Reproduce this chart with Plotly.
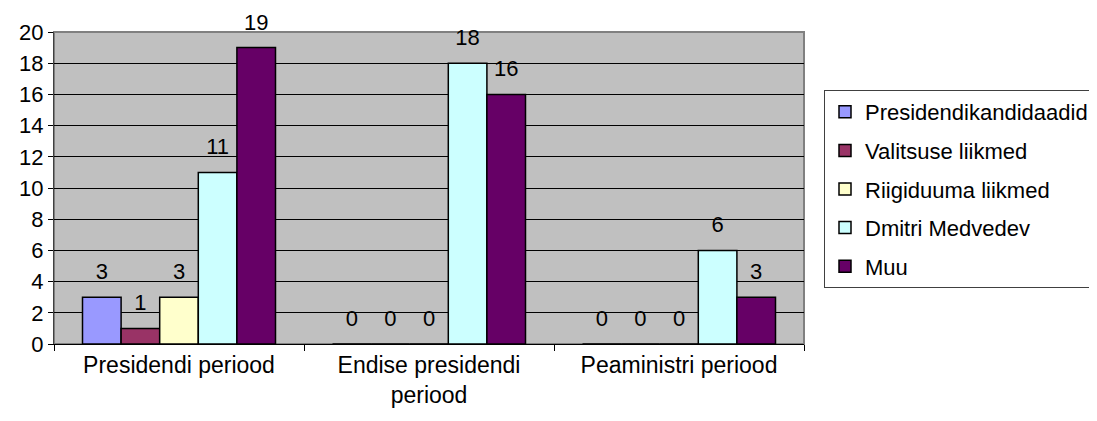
import plotly.graph_objects as go

categories = ["Presidendi periood", "Endise presidendi<br>periood", "Peaministri periood"]
series_names = ["Presidendikandidaadid", "Valitsuse liikmed", "Riigiduuma liikmed", "Dmitri Medvedev", "Muu"]
presidendikandidaadid = [3, 0, 0]
valitsuse_liikmed = [1, 0, 0]
riigiduuma_liikmed = [3, 0, 0]
dmitri_medvedev = [11, 18, 6]
muu = [19, 16, 3]
y_ticks = list(range(0, 21, 2))

values = [presidendikandidaadid, valitsuse_liikmed, riigiduuma_liikmed, dmitri_medvedev, muu]
colors = ["#9999FF", "#993366", "#FFFFCC", "#CCFFFF", "#660066"]

FONT = "Liberation Sans, Arial, sans-serif"

fig = go.Figure()
for name, vals, col in zip(series_names, values, colors):
    fig.add_trace(go.Bar(
        x=categories, y=vals, name=name, legendgroup=name,
        marker=dict(color=col, line=dict(color="black", width=1.5)),
        texttemplate="<span style='font-size:22px'>%{y}</span><br>\u00a0",
        textposition="outside",
        textfont=dict(family=FONT, size=10, color="black"),
        cliponaxis=False,
    ))

fig.update_layout(
    width=1089, height=413,
    margin=dict(l=46, r=293, t=24, b=77),
    paper_bgcolor="white", plot_bgcolor="#C0C0C0",
    barmode="group", bargap=0.228, bargroupgap=0,
    font=dict(family=FONT, size=22, color="black"),
    showlegend=True,
    legend=dict(
        xref="container", yref="container",
        x=816 / 1089, xanchor="left", y=(413 - 82) / 413, yanchor="top",
        bgcolor="white", bordercolor="#404040", borderwidth=1,
        font=dict(family=FONT, size=22, color="black"),
        traceorder="grouped", tracegroupgap=7, itemwidth=30,
    ),
    xaxis=dict(
        showgrid=False, showline=True, linecolor="black", linewidth=1,
        ticks="outside", tickson="boundaries", ticklen=6, tickcolor="black",
        mirror=False, tickfont=dict(size=23),
    ),
    yaxis=dict(
        range=[0, 20], tickvals=y_ticks, showgrid=True, gridcolor="black", gridwidth=1,
        showline=True, linecolor="#404040", linewidth=1, ticks="outside", ticklen=5,
        tickcolor="black", tickfont=dict(size=22), zeroline=False,
    ),
)
fig.add_shape(type="rect", xref="paper", yref="paper", x0=0, y0=0, x1=1, y1=1,
              line=dict(color="#808080", width=2), layer="below")

fig.write_html("out.html")
